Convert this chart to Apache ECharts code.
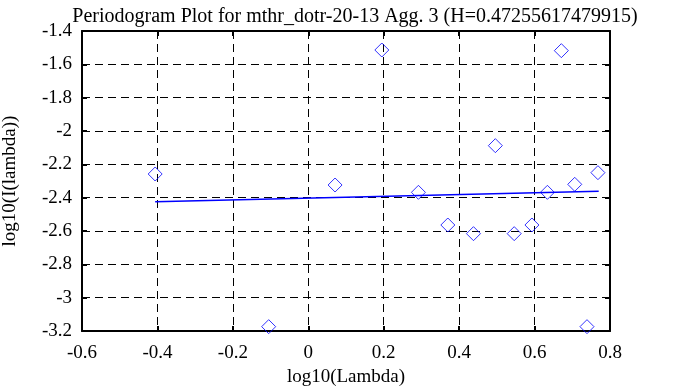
<!DOCTYPE html>
<html><head><meta charset="utf-8">
<script src="https://cdn.jsdelivr.net/npm/echarts@6/dist/echarts.min.js"></script>
<style>html,body{margin:0;padding:0;background:#fff}#c{width:673px;height:387px}</style>
</head><body><div id="c"></div>
<script>
const titleText = 'Periodogram Plot for mthr_dotr-20-13 Agg. 3 (H=0.47255617479915)';
const xName = 'log10(Lambda)';
const yName = 'log10(I(lambda))';
const logLambda = [-0.406, -0.105, 0.071, 0.195, 0.292, 0.370, 0.438, 0.496, 0.546, 0.593, 0.634, 0.671, 0.7065, 0.739, 0.768];
const logI = [-2.258, -3.174, -2.324, -1.514, -2.368, -2.564, -2.616, -2.088, -2.616, -2.564, -2.368, -1.518, -2.320, -3.174, -2.250];
const fitX = [-0.406, 0.770];
const fitY = [-2.424, -2.362];

const font = 'Liberation Serif';
const pts = logLambda.map((x, i) => [x, logI[i]]);
const fit = fitX.map((x, i) => [x, fitY[i]]);

const chart = echarts.init(document.getElementById('c'));
const axisCommon = {
  axisLine: {show: true, onZero: false, lineStyle: {color: '#000', width: 2}},
  axisTick: {show: true, inside: true, length: 5, lineStyle: {color: '#000', width: 2}},
};
chart.setOption({
  animation: false,
  backgroundColor: '#fff',
  title: {text: titleText, left: 350, textAlign: 'center', top: 2,
    textStyle: {fontFamily: font, fontSize: 20, fontWeight: 'normal', color: '#000'}},
  grid: {left: 82, right: 63, top: 31, bottom: 56, containLabel: false, outerBoundsMode: 'none'},
  xAxis: [{
    type: 'value', min: -0.6, max: 0.8, interval: 0.2, position: 'bottom',
    name: xName, nameLocation: 'middle', nameGap: 34,
    nameTextStyle: {fontFamily: font, fontSize: 19, color: '#000'},
    ...axisCommon,
    axisLabel: {fontFamily: font, fontSize: 19, color: '#000', margin: 13,
      formatter: v => String(Math.round(v * 10) / 10)},
    splitLine: {show: true, lineStyle: {color: '#000', width: 1, type: [8, 5]}}
  }, {
    type: 'value', min: -0.6, max: 0.8, interval: 0.2, position: 'top',
    ...axisCommon, axisLabel: {show: false}, splitLine: {show: false}
  }],
  yAxis: [{
    type: 'value', min: -3.2, max: -1.4, interval: 0.2, position: 'left',
    name: yName, nameLocation: 'middle', nameGap: 62,
    nameTextStyle: {fontFamily: font, fontSize: 19, color: '#000'},
    ...axisCommon,
    axisLabel: {fontFamily: font, fontSize: 19, color: '#000', margin: 10,
      formatter: v => String(Math.round(v * 10) / 10)},
    splitLine: {show: true, lineStyle: {color: '#000', width: 1, type: [8, 5]}}
  }, {
    type: 'value', min: -3.2, max: -1.4, interval: 0.2, position: 'right',
    ...axisCommon, axisLabel: {show: false}, splitLine: {show: false}
  }],
  series: [{
    type: 'scatter', data: pts, symbol: 'diamond', symbolSize: 14,
    itemStyle: {color: 'rgba(0,0,0,0)', borderColor: '#0000ff', borderWidth: 1}
  }, {
    type: 'line', data: fit, symbol: 'none',
    lineStyle: {color: '#0000ff', width: 1.5}
  }]
});
</script></body></html>
